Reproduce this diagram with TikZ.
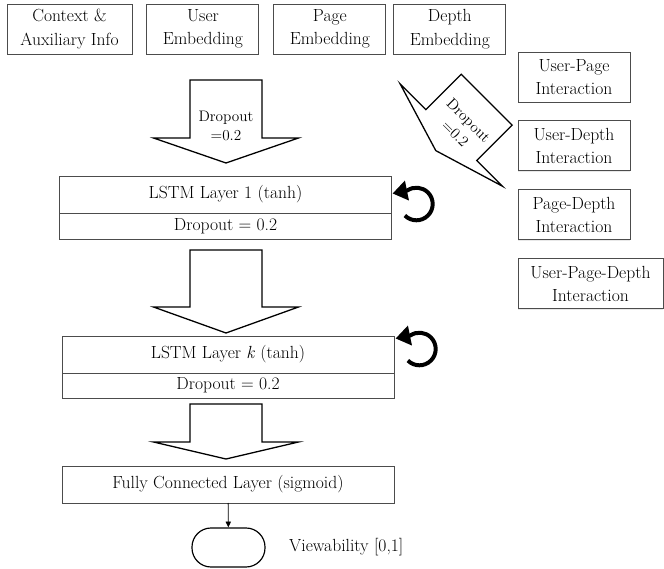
\documentclass[tikz,border=0pt]{standalone}
\usepackage{fontspec}
\usetikzlibrary{positioning, arrows.meta, shadows}

\tikzset{
  box/.style={draw=black!70, line width=0.8pt, fill=white, align=center, inner sep=1pt,
    font=\fontsize{15}{20}\selectfont,
    drop shadow={shadow xshift=0.4pt, shadow yshift=-1.2pt, opacity=0.18}},
  feat/.style={box, minimum width=3.36cm, minimum height=1.5cm},
  layer/.style={box, minimum width=9.96cm, minimum height=1.11cm, outer sep=0pt},
  term/.style={draw, line width=1pt, rounded corners=0.57cm, minimum width=2.19cm, minimum height=1.17cm},
  fatline/.style={draw=black, line width=1.1pt, fill=white, line join=miter},
  droptext/.style={align=center, inner sep=0pt, font=\fontsize{13}{16}\selectfont},
  recur/.style={line width=3.4pt, -{Triangle[length=12.5pt,width=16.5pt]}},
  pics/fatdown/.style 2 args={code={
    \draw[fatline] (-36,0) -- (36,0) -- (36,-#1) -- (72.5,-#1) -- (0,-#1-#2)
      -- (-72.5,-#1) -- (-36,-#1) -- cycle;
  }}
}

\begin{document}
\begin{tikzpicture}[x=0.03cm, y=0.03cm]
  \useasboundingbox (0,0) rectangle (664,-569);

  % input features
  \node[feat, minimum width=3.75cm] (ctx) at (69.5,-29) {Context \&\\Auxiliary Info};
  \node[feat, right=0.42cm of ctx] (usr) {User\\Embedding};
  \node[feat, right=0.42cm of usr] (pag) {Page\\Embedding};
  \node[feat, right=0.21cm of pag] (dep) {Depth\\Embedding};

  % interaction features
  \node[feat] (up) at (574,-77) {User-Page\\Interaction};
  \node[feat, below=0.54cm of up] (ud) {User-Depth\\Interaction};
  \node[feat, below=0.54cm of ud] (pd) {Page-Depth\\Interaction};
  \node[feat, minimum width=4.35cm, anchor=north west] (upd) at ([yshift=-0.54cm]pd.south west) {User-Page-Depth\\Interaction};

  % fat arrows into the first layer
  \pic at (226,-80) {fatdown={58}{25}};
  \node[droptext] (drA) at (226,-126) {Dropout\\=0.2};
  \pic[rotate=-45] at (486.7,-99.7) {fatdown={50}{22}};
  \node[droptext, rotate=-45] (drB) at (462,-127) {Dropout\\=0.2};

  % recurrent layers
  \node[layer] (lstm1) at (225.5,-194.5) {LSTM Layer 1 (tanh)};
  \node[layer, minimum height=0.78cm, below=0pt of lstm1] (drop1) {Dropout = 0.2};
  \pic at (226,-250) {fatdown={57}{26}};
  \node[layer] (lstmk) at (228,-354.5) {LSTM Layer \textit{k} (tanh)};
  \node[layer, minimum height=0.75cm, below=0pt of lstmk] (dropk) {Dropout = 0.2};
  \pic at (226,-404) {fatdown={38}{17}};

  \coordinate (rc1) at (416.4,-204);
  \draw[recur] (rc1) ++(-135:16.3) arc[start angle=-135, end angle=124, radius=16.3] -- ++(191.5:15);
  \coordinate (rck) at (419.4,-349);
  \draw[recur] (rck) ++(-135:16.3) arc[start angle=-135, end angle=124, radius=16.3] -- ++(191.5:15);

  % output
  \node[layer] (fc) at (228,-484.5) {Fully Connected Layer (sigmoid)};
  \node[term] (out) at (228.5,-547.5) {};
  \node[anchor=west, inner sep=0pt, font=\fontsize{15}{20}\selectfont] (vlab) at (289,-547) {Viewability [0,1]};
  \draw[line width=0.7pt, -{Triangle[length=5pt,width=4.5pt]}] (fc) -- (out);
\end{tikzpicture}
\end{document}
